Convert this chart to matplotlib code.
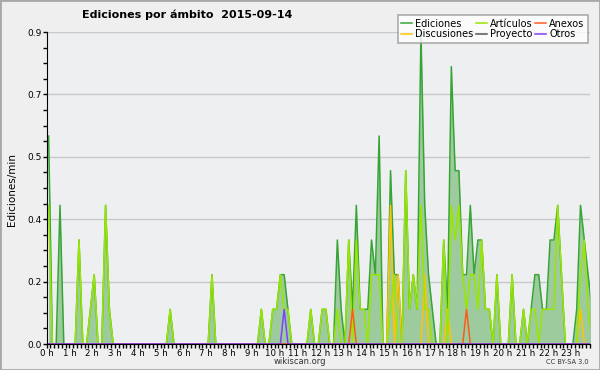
import numpy as np
import matplotlib.pyplot as plt
from matplotlib.ticker import MultipleLocator
from matplotlib.patches import Rectangle

# tramos de 10 minutos, ediciones por minuto (solo tramos no nulos)
n_bins = 144
hours = np.arange(n_bins) / 6 + 1 / 12

ediciones = {0: 0.6, 3: 0.4, 8: 0.3, 11: 0.1, 12: 0.2, 15: 0.4, 16: 0.1, 32: 0.1,
             43: 0.2, 56: 0.1, 59: 0.1, 60: 0.1, 61: 0.2, 62: 0.2, 63: 0.1,
             69: 0.1, 72: 0.1, 73: 0.1, 76: 0.3, 77: 0.1, 79: 0.3, 80: 0.1,
             81: 0.4, 82: 0.1, 83: 0.1, 84: 0.1, 85: 0.3, 86: 0.2, 87: 0.6,
             90: 0.5, 91: 0.2, 92: 0.2, 94: 0.5, 95: 0.1, 96: 0.2, 97: 0.1,
             98: 0.9, 99: 0.4, 100: 0.2, 101: 0.1, 104: 0.3, 105: 0.1, 106: 0.8,
             107: 0.5, 108: 0.5, 109: 0.2, 110: 0.2, 111: 0.4, 112: 0.2,
             113: 0.3, 114: 0.3, 115: 0.1, 116: 0.1, 118: 0.2, 122: 0.2,
             125: 0.1, 127: 0.1, 128: 0.2, 129: 0.2, 130: 0.1, 131: 0.1,
             132: 0.3, 133: 0.3, 134: 0.4, 135: 0.2, 139: 0.1, 140: 0.4,
             141: 0.3, 142: 0.2, 143: 0.1}
articulos = {0: 0.4, 8: 0.3, 11: 0.1, 12: 0.2, 15: 0.4, 16: 0.1, 32: 0.1, 43: 0.2,
             56: 0.1, 59: 0.1, 60: 0.1, 61: 0.2, 62: 0.1, 63: 0.1, 69: 0.1,
             72: 0.1, 73: 0.1, 76: 0.1, 79: 0.3, 81: 0.3, 82: 0.1, 83: 0.1,
             85: 0.2, 86: 0.2, 87: 0.2, 90: 0.1, 91: 0.2, 94: 0.5, 95: 0.1,
             96: 0.2, 97: 0.1, 98: 0.4, 99: 0.1, 100: 0.1, 104: 0.3, 106: 0.4,
             107: 0.3, 108: 0.4, 109: 0.2, 110: 0.1, 111: 0.2, 112: 0.2,
             113: 0.1, 114: 0.3, 115: 0.1, 116: 0.1, 118: 0.2, 122: 0.2,
             125: 0.1, 127: 0.1, 128: 0.1, 130: 0.1, 131: 0.1, 132: 0.1,
             133: 0.1, 134: 0.4, 135: 0.2, 140: 0.2, 141: 0.3, 142: 0.1}
discusiones = {90: 0.4, 92: 0.2, 99: 0.2, 105: 0.1, 140: 0.1}
anexos = {80: 0.1, 110: 0.1}
proyecto = {}
otros = {62: 0.1}

ytick_vals = [0.0, 0.18, 0.36, 0.54, 0.72, 0.9]
ytick_labels = ["0.0", "0.2", "0.4", "0.5", "0.7", "0.9"]
hour_labels = [f"{h} h" for h in range(24)]


def serie(d):
    v = np.zeros(n_bins)
    for k, val in d.items():
        v[k] = val
    return v


fig = plt.figure(figsize=(6, 3.7), dpi=100, facecolor="#efeff0")
ax = fig.add_axes([46.7 / 600, 26 / 370, (590 - 46.7) / 600, 312 / 370])
ax.set_facecolor("#eeeff1")

ed = serie(ediciones)
ax.fill_between(hours, ed, color="#9dcb9d", lw=0)
ax.plot(hours, ed, color="#36a536", lw=1.1, label="Ediciones")
ax.plot(hours, serie(discusiones), color="#ffc400", lw=1.1, label="Discusiones")
ax.plot(hours, serie(articulos), color="#99e600", lw=1.1, label="Artículos")
ax.plot(hours, serie(proyecto), color="#555555", lw=1.1, label="Proyecto")
ax.plot(hours, serie(anexos), color="#ff5a1e", lw=1.1, label="Anexos")
ax.plot(hours, serie(otros), color="#8040ff", lw=1.1, label="Otros")

ax.set_xlim(0, 143 / 6)
ax.set_ylim(0, 0.9)
ax.set_yticks(ytick_vals)
ax.set_yticklabels(ytick_labels)
ax.yaxis.set_minor_locator(MultipleLocator(0.045))
ax.set_xticks(range(24))
ax.set_xticklabels(hour_labels)
ax.xaxis.set_minor_locator(MultipleLocator(1 / 6))
ax.tick_params(direction="out", length=3, width=1, labelsize=6.5, pad=0.5)
ax.tick_params(axis="x", labelsize=6.2)
ax.tick_params(which="minor", direction="out", length=3, width=1)
ax.grid(axis="y", color="#c8c8c8", lw=1)
ax.set_axisbelow(True)
for s in ["top", "right"]:
    ax.spines[s].set_visible(False)

# orden de la leyenda: columnas de dos
h, l = ax.get_legend_handles_labels()
leg = fig.legend(h, l, ncol=3, loc="upper right", bbox_to_anchor=(593 / 600, 1 - 10 / 370),
                 fontsize=7, frameon=True, fancybox=False, edgecolor="#999999",
                 handlelength=1.1, handletextpad=0.3, columnspacing=0.3,
                 labelspacing=0.05, borderpad=0.4)
leg.get_frame().set_linewidth(1.2)

fig.text(187 / 600, 1 - 15 / 370, "Ediciones por ámbito  2015-09-14",
         ha="center", va="center", fontsize=8, fontweight="bold")
fig.text(12 / 600, 1 - 190 / 370, "Ediciones/min", rotation=90,
         ha="center", va="center", fontsize=7.5)
fig.text(300 / 600, 1 - 362 / 370, "wikiscan.org", ha="center", va="center",
         fontsize=6, color="#333333")
fig.text(589 / 600, 1 - 362 / 370, "CC BY-SA 3.0", ha="right", va="center",
         fontsize=4.8, color="#333333")

fig.patches.append(Rectangle((0, 0), 1, 1, transform=fig.transFigure, fill=False,
                             edgecolor="#a8a8a8", lw=2))

fig.savefig("out.png", dpi=100, facecolor=fig.get_facecolor())
